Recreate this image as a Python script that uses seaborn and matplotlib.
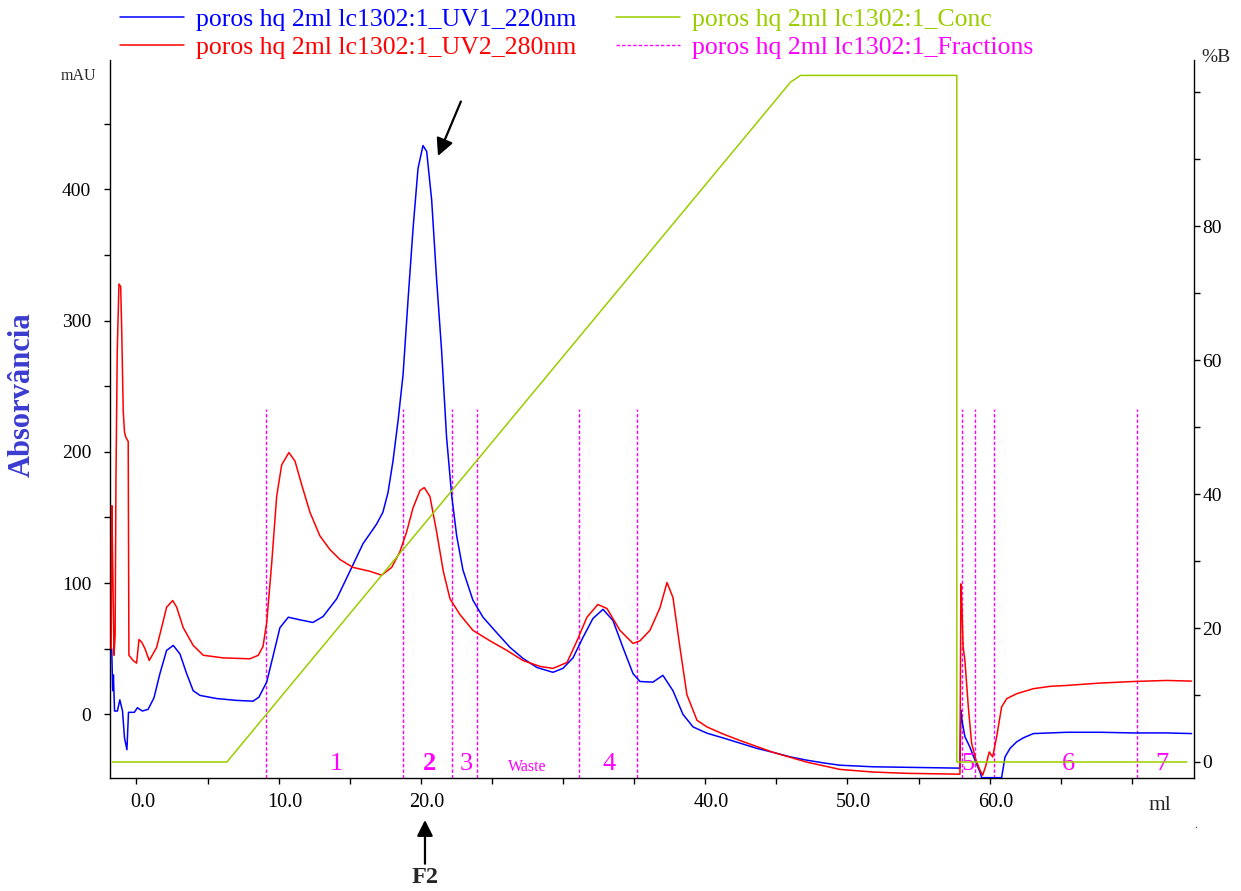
import matplotlib
matplotlib.use("Agg")
import matplotlib.pyplot as plt
import matplotlib.transforms as mtransforms
from matplotlib.lines import Line2D
from matplotlib.ticker import FixedLocator, FixedFormatter, MultipleLocator
import seaborn as sns

# ---- chromatogram data (volume in ml, absorbance in mAU, gradient in %B) ----
uv220_ml = [-1.74, -1.67, -1.62, -1.54, -1.34, -1.17, -0.98, -0.84, -0.67, -0.56,
            -0.15, 0.07, 0.41, 0.82, 1.23, 1.65, 2.12, 2.59, 3.06, 3.53,
            3.99, 4.47, 5.64, 7.05, 8.19, 8.61, 9.16, 9.62, 10.09, 10.68,
            11.50, 12.41, 13.12, 14.08, 15.01, 15.93, 16.89, 17.33, 17.69, 18.04,
            18.40, 18.75, 19.10, 19.45, 19.80, 20.15, 20.41, 20.76, 21.11, 21.46,
            21.81, 22.17, 22.52, 22.96, 23.66, 24.37, 25.35, 26.27, 27.18, 28.16,
            29.29, 29.99, 30.70, 31.40, 32.10, 32.81, 33.51, 34.21, 34.92, 35.41,
            36.32, 37.02, 37.73, 38.43, 39.14, 40.12, 41.25, 42.45, 43.64, 44.77,
            45.96, 47.16, 48.28, 49.47, 51.79, 57.69, 57.91, 57.98, 58.05, 58.26,
            58.61, 58.97, 59.32, 59.44, 60.84, 61.08, 61.43, 61.90, 62.36, 63.07,
            64.24, 65.42, 67.76, 70.08, 72.45, 74.20]
uv220_mau = [50, 18, 30, 2.5, 2.5, 11, 2.5, -18, -27, 1.5,
             1.5, 5, 2.5, 3.8, 12.5, 31, 48.7, 52.5, 46, 31,
             18, 14.4, 12, 10.6, 10, 13, 24.6, 45, 66, 74,
             72, 70, 74.5, 88, 109, 130, 145, 154, 169, 193,
             224, 259, 316, 370, 416, 433.5, 429, 392, 331, 277,
             211, 166.5, 136, 110, 87, 74, 62, 51, 42.6, 35.7,
             32, 35, 43, 58.6, 73, 80, 71.5, 51, 31, 25,
             24.5, 29.7, 18, 0, -9.6, -14.4, -18, -22, -26, -29,
             -32.4, -35, -37, -38.8, -40, -41, -41, 3, -4.6, -17,
             -25, -35, -44, -48.3, -48.3, -32.5, -26, -21, -18, -14.7,
             -14.2, -13.7, -13.7, -14.2, -14.2, -14.7]

uv280_ml = [-1.78, -1.73, -1.65, -1.58, -1.50, -1.44, -1.35, -1.23, -1.11, -1.04,
            -0.93, -0.84, -0.74, -0.58, -0.53, -0.23, 0.01, 0.18, 0.37, 0.60,
            0.90, 1.42, 1.86, 2.12, 2.55, 2.83, 3.29, 3.99, 4.70, 6.10,
            7.98, 8.57, 8.90, 9.16, 9.51, 9.86, 10.21, 10.72, 11.15, 11.62,
            12.20, 12.90, 13.61, 14.31, 15.22, 16.42, 17.24, 17.95, 18.53, 19.00,
            19.44, 19.94, 20.24, 20.64, 21.11, 21.58, 22.05, 22.75, 23.66, 24.86,
            26.05, 27.18, 28.38, 29.29, 30.28, 30.98, 31.68, 32.45, 33.09, 34.00,
            34.92, 35.41, 36.11, 36.81, 37.31, 37.73, 38.22, 38.71, 39.42, 40.12,
            41.25, 42.45, 44.77, 47.16, 49.47, 51.79, 54.18, 57.69, 57.91, 57.98,
            58.05, 58.14, 58.26, 58.50, 58.73, 59.04, 59.32, 59.51, 59.74, 59.97,
            60.21, 60.49, 60.84, 61.20, 61.90, 63.07, 64.24, 65.42, 67.76, 70.10,
            72.45, 74.20]
uv280_mau = [50, 159, 100, 45, 60, 180, 277, 328, 326, 295,
             231, 215, 211, 208, 45, 41, 39, 57, 55, 50,
             41, 51, 70, 81.6, 86.7, 81.6, 66, 52.5, 45, 43,
             42.3, 45, 51.7, 70, 115, 166, 190, 199.5, 193, 175,
             154, 136, 125.5, 118, 112, 109, 106, 112, 124, 139,
             157, 170.6, 172.8, 166, 139, 109, 88, 76, 64, 56,
             48.7, 41, 36.5, 35, 39.5, 56, 74, 83.7, 80.6, 64,
             54, 56, 64, 81, 100.4, 89, 51, 15, -4.6, -9.6,
             -15, -20, -29, -36.5, -42, -44, -45, -45.6, -45.6, 99.4,
             81.6, 51, 41, 5.6, -22, -35, -42.6, -46.4, -38.8, -28.7,
             -32.5, -17.3, 5.6, 11.9, 15.7, 19.5, 21.3, 22, 23.8, 25,
             25.8, 25.3]

conc_ml = [-1.72, 6.36, 46.0, 46.7, 57.69, 57.69, 73.87]
conc_pct = [0, 0, 101.5, 102.5, 102.5, 0, 0]

fraction_ml = [9.12, 18.74, 22.19, 23.95, 31.12, 35.20, 58.05, 58.97, 60.31, 70.37]
fraction_top_mau = 233
fraction_label_ml = [14.03, 20.64, 23.17, 27.46, 33.23, 58.48, 65.51, 72.12]
fraction_labels = ["1", "2", "3", "Waste", "4", "5", "6", "7"]

x_ticks = [0, 10, 20, 30, 40, 50, 60, 70]
x_tick_labels = ["0.0", "10.0", "20.0", "", "40.0", "50.0", "60.0", ""]
mau_ticks = [0, 100, 200, 300, 400]
pct_ticks = [0, 20, 40, 60, 80]

series_names = ["poros hq 2ml lc1302:1_UV1_220nm",
                "poros hq 2ml lc1302:1_UV2_280nm",
                "poros hq 2ml lc1302:1_Conc",
                "poros hq 2ml lc1302:1_Fractions"]

BLUE = "#0000ff"
RED = "#ff0000"
GREEN = "#9acd00"
MAGENTA = "#ff00ff"

sns.set_theme(style="ticks")
plt.rcParams["font.family"] = ["Liberation Serif", "DejaVu Serif"]
plt.rcParams["axes.linewidth"] = 1.0

W, H = 1241, 891
fig = plt.figure(figsize=(W / 100, H / 100), dpi=100)
L, R, T, B = 110, 1194, 60, 778
ax = fig.add_axes([L / W, 1 - B / H, (R - L) / W, (B - T) / H])
ax.set_facecolor("white")

# left axis: absorbance traces
sns.lineplot(x=uv220_ml, y=uv220_mau, ax=ax, color=BLUE, lw=1.1,
             sort=False, estimator=None, zorder=3)
sns.lineplot(x=uv280_ml, y=uv280_mau, ax=ax, color=RED, lw=1.1,
             sort=False, estimator=None, zorder=3)

ax.set_xlim(-1.86, 74.37)
ax.set_ylim(-48.55, 498.7)

# fraction marks
ax.vlines(fraction_ml, -48.55, fraction_top_mau, colors=MAGENTA, lw=1.0,
          linestyles=(0, (2.5, 1.5)), zorder=2)
for xm, lab in zip(fraction_label_ml, fraction_labels):
    if lab == "Waste":
        ax.text(xm, -46, lab, color=MAGENTA, fontsize=11.5, ha="center", va="bottom")
    else:
        ax.text(xm, -46, lab, color=MAGENTA, fontsize=19, ha="center", va="bottom",
                fontweight="bold" if lab == "2" else "normal")

# right axis: gradient concentration
ax2 = ax.twinx()
sns.lineplot(x=conc_ml, y=conc_pct, ax=ax2, color=GREEN, lw=1.1,
             sort=False, estimator=None)
ax2.set_ylim(-2.39, 104.8)
ax2.set_xlim(-1.86, 74.37)

# spines and ticks
for a in (ax, ax2):
    a.spines["top"].set_visible(False)
    for s in a.spines.values():
        s.set_color("black")
        s.set_linewidth(1.0)
    a.grid(False)
ax.spines["right"].set_visible(False)
ax2.spines["left"].set_visible(False)
ax2.spines["bottom"].set_visible(False)

ax.xaxis.set_major_locator(FixedLocator(x_ticks))
ax.xaxis.set_major_formatter(FixedFormatter(x_tick_labels))
ax.xaxis.set_minor_locator(MultipleLocator(5))
ax.yaxis.set_major_locator(FixedLocator(mau_ticks))
ax.yaxis.set_minor_locator(MultipleLocator(50))
ax.tick_params(axis="x", which="both", direction="out", length=4, width=1.0,
               labelsize=14.5, pad=7, colors="black")
ax.tick_params(axis="y", which="both", direction="out", length=4, width=1.0,
               labelsize=14, pad=9.5, colors="black")
ax2.yaxis.set_major_locator(FixedLocator(pct_ticks))
ax2.yaxis.set_minor_locator(MultipleLocator(10))
ax2.tick_params(axis="y", which="both", direction="out", length=4, width=1.0,
                labelsize=14, pad=2, colors="black")
ax.set_xlabel("")
ax.set_ylabel("")
ax2.set_ylabel("")

shift = mtransforms.ScaledTranslation(6 / 100, 0, fig.dpi_scale_trans)
for lbl in ax.get_xticklabels():
    lbl.set_transform(lbl.get_transform() + shift)

# axis captions
fig.text(22 / W, 1 - 395 / H, "Absorvância", rotation=90, ha="center", va="center",
         fontsize=22, fontweight="bold", color="#3b3bd0")
fig.text(78 / W, 1 - 76 / H, "mAU", ha="center", va="center", fontsize=11.5)
fig.text(1201 / W, 1 - 57 / H, "%B", ha="left", va="center", fontsize=14)
fig.text(1160 / W, 1 - 805 / H, "ml", ha="center", va="center", fontsize=15.5)
fig.text(1196 / W, 1 - 826 / H, ".", ha="center", va="center", fontsize=8)

# arrows highlighting the main peak
ax.annotate("", xy=(21.13, 423.6), xytext=(22.89, 469),
            arrowprops=dict(arrowstyle="-|>", color="black", lw=1.6, mutation_scale=26))
ax.annotate("F2", xy=(20.29, 1 - 820 / H), xytext=(20.29, 1 - 867 / H),
            xycoords=("data", "figure fraction"), textcoords=("data", "figure fraction"),
            ha="center", va="top", fontsize=17.5, fontweight="bold",
            arrowprops=dict(arrowstyle="-|>", color="black", lw=1.6, mutation_scale=24,
                            shrinkA=0, shrinkB=0),
            annotation_clip=False)

# legend
handles = [Line2D([], [], color=BLUE, lw=1.1),
           Line2D([], [], color=RED, lw=1.1),
           Line2D([], [], color=GREEN, lw=1.1),
           Line2D([], [], color=MAGENTA, lw=1.0, linestyle=(0, (2.5, 1.5)))]
fig.legend(handles, series_names, loc="upper left",
           bbox_to_anchor=(120 / W, 1 - 8 / H), ncol=2, frameon=False,
           fontsize=18.5, labelcolor="linecolor", handlelength=2.5,
           handletextpad=0.45, columnspacing=1.55, labelspacing=0.2,
           borderpad=0, borderaxespad=0)

fig.savefig("out.png", dpi=100, facecolor="white")
